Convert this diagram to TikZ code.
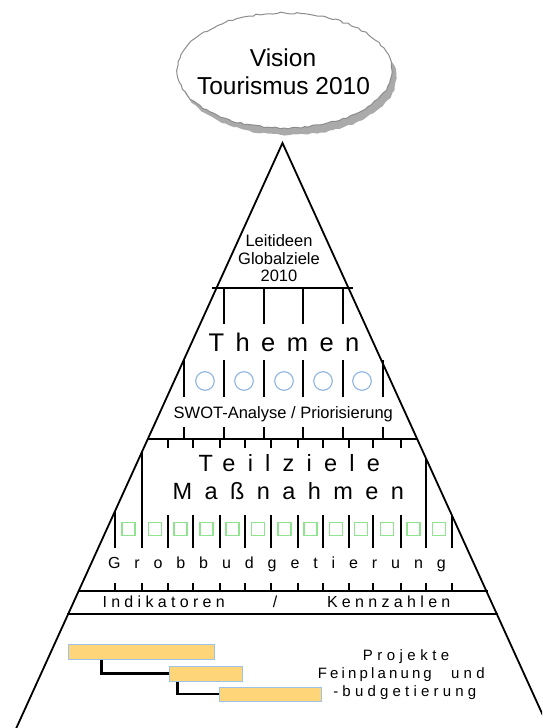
\documentclass[tikz,border=0pt]{standalone}
\usepackage{fontspec}
\setmainfont{Liberation Sans}
\usetikzlibrary{decorations.pathmorphing}
\definecolor{circblue}{RGB}{141,180,226}
\definecolor{sqgreen}{RGB}{144,228,144}
\definecolor{barfill}{RGB}{255,213,122}
\definecolor{barline}{RGB}{157,195,230}
\definecolor{cloudline}{RGB}{140,140,140}
\definecolor{cloudshadow}{RGB}{170,170,170}
\begin{document}
\begin{tikzpicture}[x=1pt,y=-1pt,
  blk/.style={line width=2.1pt, black, line cap=butt},
  tri/.style={line width=1.8pt, black, line join=miter},
  txt/.style={inner sep=0pt, outer sep=0pt},
  circ/.style={circle, draw=circblue, line width=1.1pt, minimum size=18.6pt, inner sep=0pt},
  sq/.style={rectangle, draw=sqgreen, line width=1.1pt, minimum size=13pt, inner sep=0pt},
  bar/.style={rectangle, fill=barfill, draw=barline, line width=1pt, inner sep=0pt},
  conn/.style={line width=2.1pt, black},
  cloud/.style={decorate, decoration={random steps, segment length=4pt, amplitude=0.9pt}}]
\useasboundingbox (0,0) rectangle (542,728);
\clip (0,0) rectangle (542,728);
\pgfmathsetseed{7}
% vision cloud
\fill[cloudshadow, cloud] (289,77.5) ellipse [x radius=107.5pt, y radius=57.5pt];
\filldraw[fill=white, draw=cloudline, line width=1pt, cloud] (284.5,70.5) ellipse [x radius=107.5pt, y radius=57.5pt];
\node[txt, anchor=base] (vis1) at (283,66.7) {\fontsize{24.5}{29}\selectfont Vision};
\node[txt, anchor=base] (vis2) at (283.5,94) {\fontsize{24.5}{29}\selectfont Tourismus 2010};
% pyramid
\coordinate (apex) at (282.5,143);
\coordinate (bl) at (9.5,743);
\coordinate (br) at (555.5,743);
\draw[tri] (bl) -- (apex) -- (br);
% horizontal lines
\draw[blk] (212,288) -- (353,288);
\draw[blk] (147,439) -- (418,439);
\draw[blk] (78,591) -- (488,591);
\draw[blk] (67,614) -- (498,614);
% Leitideen
\node[txt, anchor=base] (l1) at (279,246) {\fontsize{16.5}{18}\selectfont Leitideen};
\node[txt, anchor=base] (l2) at (279,264) {\fontsize{16.5}{18}\selectfont Globalziele};
\node[txt, anchor=base] (l3) at (279,281) {\fontsize{16.5}{18}\selectfont 2010};
% Themen band
\foreach \x in {224,264,303,343} \draw[blk] (\x,288) -- (\x,324);
\foreach \x in {184,224,264,303,343,383} \draw[blk] (\x,360) -- (\x,397);
\foreach \x in {184,224,264,303,343,383} \draw[blk] (\x,427) -- (\x,439);
\node[txt, anchor=base west] (themen) at (208.5,351.7) {\fontsize{25.5}{30}\selectfont\addfontfeature{LetterSpace=45}Themen};
\foreach \x [count=\i] in {205,244,284,323,362} \node[circ] (c\i) at (\x,381) {};
\node[txt, anchor=base] (swot) at (283.3,418.3) {\fontsize{16.5}{18}\selectfont SWOT-Analyse / Priorisierung};
% Teilziele band
\foreach \x in {168,193,220,245,271,298,323,349,373,401} \draw[blk] (\x,439) -- (\x,448);
\draw[blk] (142,451) -- (142,548);
\draw[blk] (426,458) -- (426,548);
\node[txt, anchor=base west] (teil) at (198.5,471.7) {\fontsize{23.5}{28}\selectfont\addfontfeature{LetterSpace=52}Teilziele};
\node[txt, anchor=base west] (mass) at (172.5,499.3) {\fontsize{23.5}{28}\selectfont\addfontfeature{LetterSpace=53}Maßnahmen};
\draw[blk] (115,511) -- (115,548);
\draw[blk] (452,515) -- (452,548);
\foreach \x in {168,193,220,245,271,298,323,349,373,401} \draw[blk] (\x,515) -- (\x,548);
\foreach \x [count=\i] in {128.5,155,180.5,206.5,232.5,258,284.5,310.5,336,361,387,413.5,439} \node[sq] (s\i) at (\x,529) {};
\node[txt, anchor=base west] (grob) at (108,568.3) {\fontsize{16}{18}\selectfont\addfontfeature{LetterSpace=87}Grobbudgetierung};
\foreach \x in {115,142,168,193,220,245,271,298,323,349,373,401,426,452} \draw[blk] (\x,583) -- (\x,591);
% Indikatoren
\node[txt, anchor=base west] (ind) at (102.5,607.3) {\fontsize{16}{18}\selectfont\addfontfeature{LetterSpace=27}Indikatoren};
\node[txt, anchor=base] (slash) at (275,607.3) {\fontsize{16}{18}\selectfont /};
\node[txt, anchor=base west] (kenn) at (327,607.3) {\fontsize{16}{18}\selectfont\addfontfeature{LetterSpace=27}Kennzahlen};
% Projekte
\node[bar, minimum width=146pt, minimum height=15pt] (b1) at (141,651.5) {};
\node[bar, minimum width=73pt, minimum height=15pt] (b2) at (205.5,673.5) {};
\node[bar, minimum width=102pt, minimum height=14pt] (b3) at (270,694) {};
\draw[conn] (b1.south west) ++(34,0) |- (b2.west);
\draw[conn] (b2.south west) ++(9,0) |- (b3.west);
\node[txt, anchor=base west] (p1) at (362.8,660.7) {\fontsize{15}{18}\selectfont\addfontfeature{LetterSpace=30}Projekte};
\node[txt, anchor=base west] (p2) at (317.8,678.3) {\fontsize{15}{18}\selectfont\addfontfeature{LetterSpace=21}Feinplanung};
\node[txt, anchor=base west] (p3) at (451,678.3) {\fontsize{15}{18}\selectfont\addfontfeature{LetterSpace=29}und};
\node[txt, anchor=base west] (p4) at (333.3,696.7) {\fontsize{15}{18}\selectfont\addfontfeature{LetterSpace=28}-budgetierung};
\end{tikzpicture}
\end{document}
